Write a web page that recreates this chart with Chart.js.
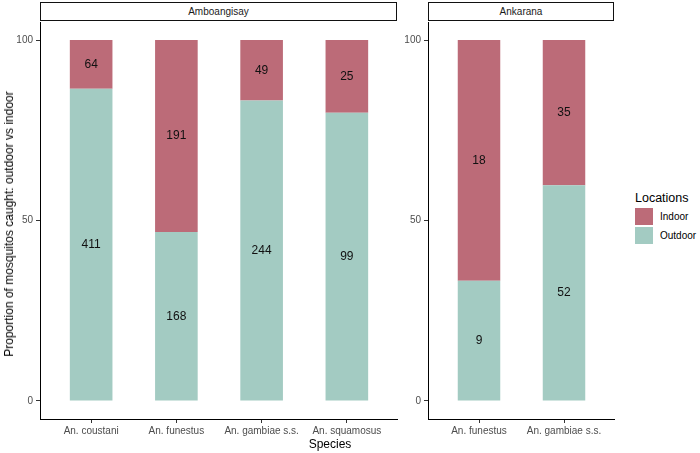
<!DOCTYPE html>
<html>
<head>
<meta charset="utf-8">
<script src="https://cdn.jsdelivr.net/npm/chart.js@4.4.1/dist/chart.umd.min.js"></script>
<style>
  body { margin: 0; background: #fff; font-family: "Liberation Sans", Arial, sans-serif; }
  #wrap { position: relative; width: 700px; height: 453px; overflow: hidden; }
  canvas { position: absolute; top: 0; }
  .strip { position: absolute; top: 2px; height: 17px; border: 1.5px solid #111; box-sizing: content-box;
           font-size: 10px; color: #1a1a1a; text-align: center; line-height: 17px; background: #fff; }
  #ytitle { position: absolute; left: 9px; top: 224px; transform: translate(-50%, -50%) rotate(-90deg);
            white-space: nowrap; font-size: 12px; color: #000; }
  #xtitle { position: absolute; left: 330px; top: 444px; transform: translate(-50%, -50%); font-size: 12px; color: #000; }
  #legend { position: absolute; left: 635px; top: 191px; font-size: 10px; color: #000; }
  #legend .ttl { font-size: 12.5px; margin-bottom: 3px; }
  #legend .row { height: 19px; line-height: 17px; }
  #legend .sw { display: inline-block; width: 18px; height: 17px; vertical-align: top; margin-right: 7px; }
</style>
</head>
<body>
<div id="wrap">
  <canvas id="left" width="398" height="453" style="left:0px"></canvas>
  <canvas id="right" width="227" height="453" style="left:388px"></canvas>
  <div class="strip" style="left:40px; width:355px">Amboangisay</div>
  <div class="strip" style="left:428px; width:184px">Ankarana</div>
  <div id="ytitle">Proportion of mosquitos caught: outdoor vs indoor</div>
  <div id="xtitle">Species</div>
  <div id="legend">
    <div class="ttl">Locations</div>
    <div class="row"><span class="sw" style="background:#bc6b78"></span>Indoor</div>
    <div class="row"><span class="sw" style="background:#a3cbc2"></span>Outdoor</div>
  </div>
</div>
<script>
// counts per species, one panel per site
var speciesA = ['An. coustani', 'An. funestus', 'An. gambiae s.s.', 'An. squamosus'];
var outdoorA = [411, 168, 244, 99];
var indoorA = [64, 191, 49, 25];

var speciesB = ['An. funestus', 'An. gambiae s.s.'];
var outdoorB = [9, 52];
var indoorB = [18, 35];

var yTicks = [0, 50, 100];

var indoorColor = '#bc6b78';
var outdoorColor = '#a3cbc2';

// write the raw count in the middle of each stacked piece
var countLabels = {
    id: 'countLabels',
    afterDatasetsDraw: function (chart) {
        var ctx = chart.ctx;
        ctx.save();
        ctx.font = '12px "Liberation Sans", Arial, sans-serif';
        ctx.fillStyle = '#111';
        ctx.textAlign = 'center';
        ctx.textBaseline = 'middle';
        chart.data.datasets.forEach(function (ds, i) {
            var meta = chart.getDatasetMeta(i);
            meta.data.forEach(function (bar, j) {
                ctx.fillText(ds.counts[j], bar.x, (bar.y + bar.base) / 2);
            });
        });
        ctx.restore();
    }
};

function toPoints(part, a, b) {
    return part.map(function (v, i) {
        return { x: i, y: v * 100 / (a[i] + b[i]) };
    });
}

function makePanel(id, species, outdoor, indoor) {
    var ctx = document.getElementById(id);
    return new Chart(ctx, {
        type: 'bar',
        data: {
            datasets: [{
                label: 'Outdoor',
                data: toPoints(outdoor, outdoor, indoor),
                counts: outdoor,
                backgroundColor: outdoorColor
            }, {
                label: 'Indoor',
                data: toPoints(indoor, outdoor, indoor),
                counts: indoor,
                backgroundColor: indoorColor
            }]
        },
        options: {
            responsive: false,
            animation: false,
            devicePixelRatio: 1,
            barPercentage: 0.5,
            categoryPercentage: 1,
            layout: { padding: { top: 22, left: 0, right: 0, bottom: 0 } },
            plugins: { legend: { display: false }, tooltip: { enabled: false } },
            scales: {
                x: {
                    type: 'linear',
                    stacked: true,
                    offset: false,
                    min: -0.6,
                    max: species.length - 1 + 0.6,
                    afterBuildTicks: function (scale) {
                        scale.ticks = species.map(function (s, i) { return { value: i }; });
                    },
                    afterFit: function (scale) { scale.height = 34; },
                    border: { display: true, color: '#000', width: 1 },
                    grid: { offset: false, drawOnChartArea: false, drawTicks: true, tickLength: 4, color: '#333' },
                    ticks: {
                        autoSkip: false,
                        minRotation: 0,
                        maxRotation: 0,
                        padding: 2,
                        color: '#4d4d4d',
                        font: { size: 10, family: '"Liberation Sans", Arial, sans-serif' },
                        callback: function (v) { return species[v]; }
                    }
                },
                y: {
                    stacked: true,
                    min: -5,
                    max: 105,
                    afterBuildTicks: function (scale) {
                        scale.ticks = yTicks.map(function (v) { return { value: v }; });
                    },
                    afterFit: function (scale) { scale.width = 40; },
                    border: { display: true, color: '#000', width: 1 },
                    grid: { drawOnChartArea: false, drawTicks: true, tickLength: 4, color: '#333' },
                    ticks: {
                        padding: 3,
                        color: '#4d4d4d',
                        font: { size: 10, family: '"Liberation Sans", Arial, sans-serif' }
                    }
                }
            }
        },
        plugins: [countLabels]
    });
}

makePanel('left', speciesA, outdoorA, indoorA);
makePanel('right', speciesB, outdoorB, indoorB);
</script>
</body>
</html>
